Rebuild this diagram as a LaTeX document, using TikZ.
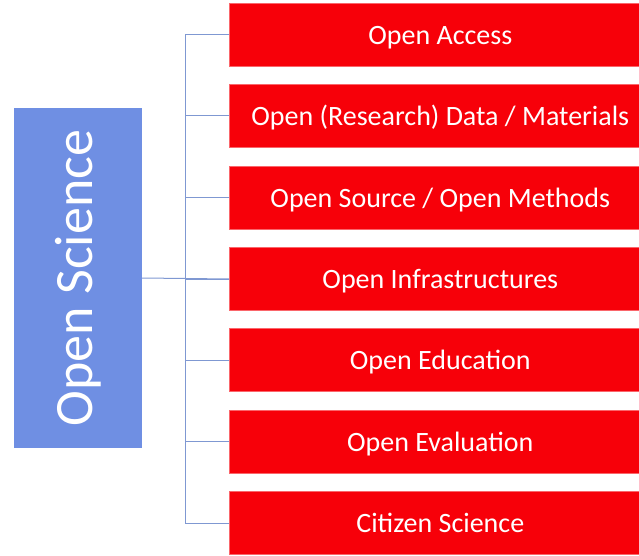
\documentclass[tikz,border=0pt]{standalone}
\usepackage{fontspec}
\setmainfont{Carlito}
\definecolor{osblue}{HTML}{6F8FE3}
\definecolor{osred}{HTML}{F70009}
\definecolor{osline}{HTML}{7F98D2}
\begin{document}
\begin{tikzpicture}[x=1pt,y=-1pt,
  redbox/.style={fill=osred,draw=osred!60!white,line width=0.6pt,minimum width=422pt,minimum height=63pt,inner sep=0pt,text=white,font=\fontsize{28}{32}\selectfont,text height=22pt,text depth=3pt,anchor=west},
  link/.style={draw=osline,line width=1pt}]
\useasboundingbox (0,0) rectangle (639,556);
\clip (0,0) rectangle (639,556);
\node[fill=osblue,minimum width=128pt,minimum height=340pt,inner sep=0pt,text=white,font=\fontsize{54}{60}\selectfont] (os) at (78,278) {\rotatebox{90}{Open Science}};
\node[redbox] (b1) at (229,35) {Open Access};
\node[redbox] (b2) at (229,116) {Open (Research) Data / Materials};
\node[redbox] (b3) at (229,197.5) {Open Source / Open Methods};
\node[redbox] (b4) at (229,279) {Open Infrastructures};
\node[redbox] (b5) at (229,360) {Open Education};
\node[redbox] (b6) at (229,441.5) {Open Evaluation};
\node[redbox] (b7) at (229,523) {Citizen Science};
\coordinate (top) at (185,35);
\coordinate (bot) at (185,523);
\draw[link] (top) -- (bot);
\draw[link] (os.east) -- (b4.west);
\foreach \i in {1,...,7} {\draw[link] (185,0 |- b\i.west) -- (b\i.west);}
\end{tikzpicture}
\end{document}
